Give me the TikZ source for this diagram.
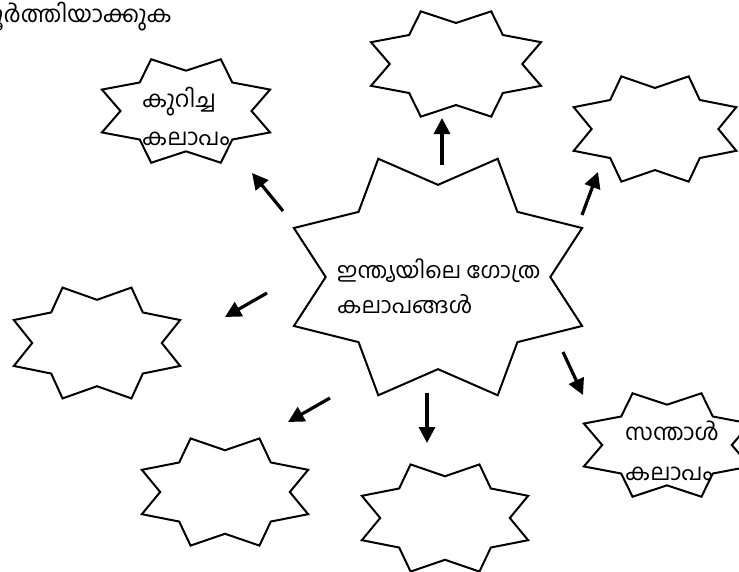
\documentclass[tikz,border=0pt]{standalone}
\usepackage{fontspec}
\newfontfamily\mal[Script=Malayalam]{Hind Kochi}
\usetikzlibrary{arrows.meta}
\tikzset{
  starline/.style={draw=black, line width=2pt, fill=white, line join=miter},
  arr/.style={draw=black, line width=3.2pt, -{Triangle[length=16pt,width=16pt]}},
  bigtxt/.style={font=\mal\fontsize{22.3}{22.3}\selectfont, inner sep=0pt, anchor=base west},
  smalltxt/.style={font=\mal\fontsize{23}{23}\selectfont, inner sep=0pt, anchor=base west},
}
\newcommand\mystar[5]{%
  \begin{scope}[shift={(#2,#3)}]
    \coordinate (#1) at (0,0);
    \draw[starline] (0:{0.72*#4} and {0.72*#5})
      \foreach \a in {45,90,...,315} { -- (\a-22.5:#4 and #5) -- (\a:{0.72*#4} and {0.72*#5}) }
      -- (337.5:#4 and #5) -- cycle;
  \end{scope}}
\begin{document}
\begin{tikzpicture}[x=1pt,y=-1pt]
\useasboundingbox (0,0) rectangle (739,571);
\fill[white] (0,0) rectangle (739,571);
% stars
\mystar{sc}{438}{277}{156}{128}
\mystar{st}{456}{64}{92}{57}
\mystar{str}{655}{129}{88}{57}
\mystar{sk}{186}{111}{91}{56}
\mystar{sl}{97}{343}{90}{60}
\mystar{sbl}{225}{492}{90}{58}
\mystar{sbc}{445}{518}{90}{58}
\mystar{ss}{667}{445}{90}{56}
% title
\node[smalltxt, anchor=base east] (title) at (172,22) {പൂർത്തിയാക്കുക};
% texts
\node[bigtxt] (c1) at (337,278) {ഇന്ത്യയിലെ ഗോത്ര};
\node[bigtxt] (c2) at (337,313) {കലാപങ്ങൾ};
\node[smalltxt] (k1) at (142,107) {കുറിച്ച};
\node[smalltxt] (k2) at (142,145) {കലാപം};
\node[smalltxt] (s1) at (625,440) {സന്താൾ};
\node[smalltxt] (s2) at (625,480) {കലാപം};
% arrow ends
\coordinate (a1s) at (442,165); \coordinate (a1e) at (442,118);
\coordinate (a2s) at (582,215); \coordinate (a2e) at (598,172);
\coordinate (a3s) at (283,211); \coordinate (a3e) at (252,173);
\coordinate (a4s) at (267,293); \coordinate (a4e) at (225,317);
\coordinate (a5s) at (330,398); \coordinate (a5e) at (288,422);
\coordinate (a6s) at (427,393); \coordinate (a6e) at (427,443);
\coordinate (a7s) at (563,352); \coordinate (a7e) at (583,395);
\foreach \i in {1,...,7} { \draw[arr] (a\i s) -- (a\i e); }
\end{tikzpicture}
\end{document}
